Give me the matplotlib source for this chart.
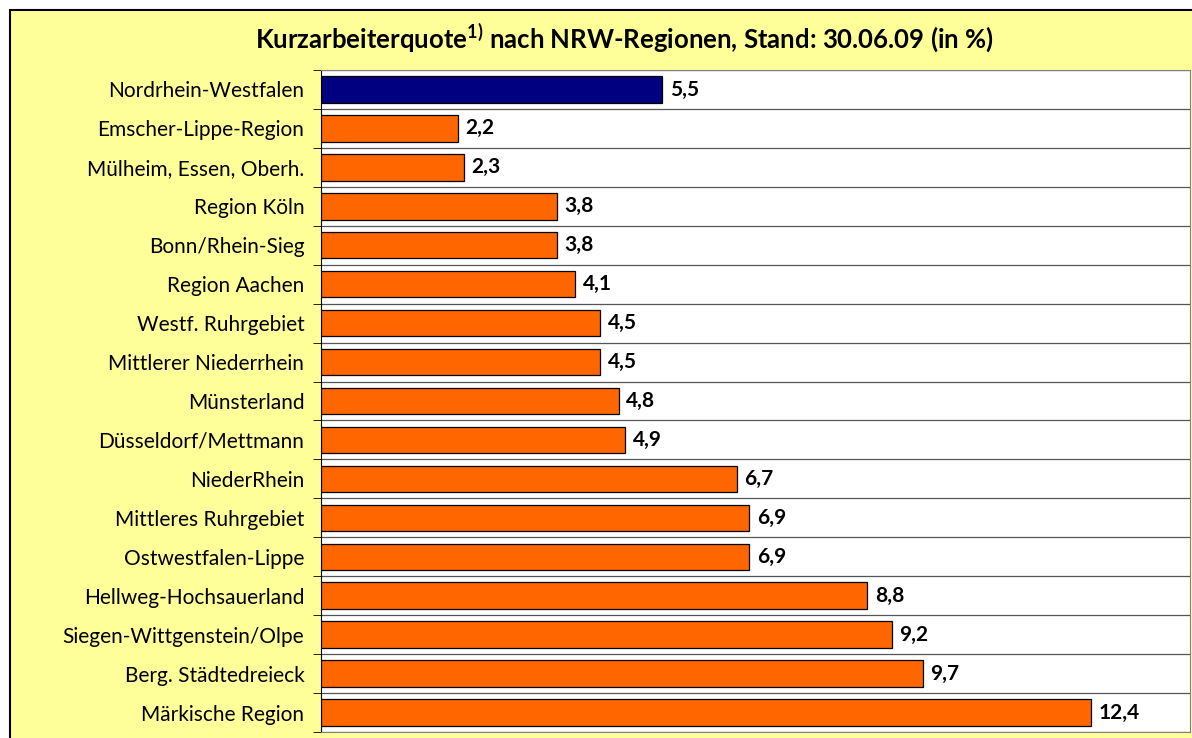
import matplotlib.pyplot as plt
import matplotlib.patches as patches
import numpy as np

# Kurzarbeiterquote nach NRW-Regionen, Stand 30.06.09
regions = ["Nordrhein-Westfalen", "Emscher-Lippe-Region", "Mülheim, Essen, Oberh.",
           "Region Köln", "Bonn/Rhein-Sieg", "Region Aachen", "Westf. Ruhrgebiet",
           "Mittlerer Niederrhein", "Münsterland", "Düsseldorf/Mettmann", "NiederRhein",
           "Mittleres Ruhrgebiet", "Ostwestfalen-Lippe", "Hellweg-Hochsauerland",
           "Siegen-Wittgenstein/Olpe", "Berg. Städtedreieck", "Märkische Region"]
quote = [5.5, 2.2, 2.3, 3.8, 3.8, 4.1, 4.5, 4.5, 4.8, 4.9, 6.7, 6.9, 6.9, 8.8, 9.2, 9.7, 12.4]

yellow = "#FFFF99"
orange = "#FF6600"
navy = "#000080"

plt.rcParams['font.family'] = ['Lato', 'DejaVu Sans']
plt.rcParams['mathtext.fontset'] = 'custom'
plt.rcParams['mathtext.rm'] = 'Lato'
plt.rcParams['mathtext.bf'] = 'Lato:bold'

fig = plt.figure(figsize=(11.92, 7.38), dpi=100)
fig.patch.set_facecolor("white")

# yellow frame of the chart
W, H = 1192, 738
frame = patches.Rectangle((10 / W, -0.05), 1.2, 1 - 10 / H + 0.05, transform=fig.transFigure,
                          facecolor=yellow, edgecolor="black", linewidth=1.5, zorder=-5)
fig.patches.append(frame)

ax = fig.add_axes([321 / W, 6 / H, (1190 - 321) / W, (732 - 70) / H])
ax.set_zorder(2)
ax.set_facecolor("white")

y = np.arange(len(regions))
colors = [navy] + [orange] * (len(regions) - 1)
ax.barh(y, quote, height=0.68, color=colors, edgecolor="black", linewidth=0.9, zorder=3)

for yi, v in zip(y, quote):
    ax.text(v + 0.12, yi, f"{v:.1f}".replace(".", ","), va="center", ha="left",
            fontsize=15, fontweight="bold", color="black")

ax.set_xlim(0, 14)
ax.set_ylim(len(regions) - 0.5, -0.5)
ax.set_xticks([])
ax.set_yticks(y)
ax.set_yticklabels(regions, fontsize=15)
ax.tick_params(axis="y", length=0, pad=12)
ax.set_yticks(np.arange(len(regions) + 1) - 0.5, minor=True)
ax.tick_params(axis="y", which="minor", length=6, direction="out", color="black")
ax.grid(axis="y", which="minor", color="#555555", linewidth=0.9)
ax.set_axisbelow(True)
for s in ["top", "right", "bottom"]:
    ax.spines[s].set_color("#808080")
ax.spines["left"].set_color("black")

fig.text(624 / W, 1 - 38 / H,
         r"Kurzarbeiterquote$^{\mathbf{1)}}$ nach NRW-Regionen, Stand: 30.06.09 (in %)",
         ha="center", va="center", fontsize=18.5, fontweight="bold")

fig.savefig("out.png", dpi=100, facecolor=fig.get_facecolor())
